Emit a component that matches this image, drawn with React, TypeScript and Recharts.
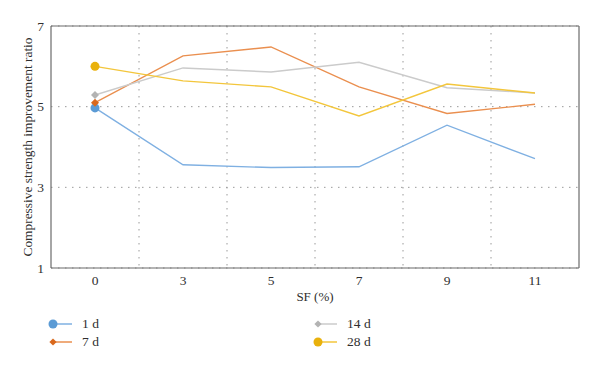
import React from 'react';
import { LineChart, Line, XAxis, YAxis, CartesianGrid } from 'recharts';

const sfLabels = ['0', '3', '5', '7', '9', '11'];
const day1 = [4.97, 3.56, 3.49, 3.51, 4.54, 3.71];
const day7 = [5.1, 6.26, 6.48, 5.49, 4.83, 5.06];
const day14 = [5.29, 5.96, 5.86, 6.1, 5.47, 5.34];
const day28 = [6.0, 5.64, 5.49, 4.77, 5.56, 5.34];
const yTicks = [1, 3, 5, 7];

const data = sfLabels.map((sf, i) => ({
  sf,
  d1: day1[i],
  d7: day7[i],
  d14: day14[i],
  d28: day28[i],
}));

const FONT = 'Liberation Serif';
const frameColor = '#6b6b6b';
const gridColor = '#9a9a9a';
const textColor = '#2f2f2f';

const series = [
  { key: 'd1', name: '1 d', line: '#7fb0e2', mark: '#5b9bd5', shape: 'circle' },
  { key: 'd7', name: '7 d', line: '#ea8f4f', mark: '#d9681c', shape: 'diamond' },
  { key: 'd14', name: '14 d', line: '#cbcbcb', mark: '#b3b3b3', shape: 'diamond' },
  { key: 'd28', name: '28 d', line: '#f3c63c', mark: '#e9b10c', shape: 'circle' },
];

const Marker = ({ cx, cy, shape, color, size = 4 }: { cx: number; cy: number; shape: string; color: string; size?: number }) =>
  shape === 'circle' ? (
    <circle cx={cx} cy={cy} r={4.5} fill={color} />
  ) : (
    <path d={`M${cx},${cy - size} L${cx + size},${cy} L${cx},${cy + size} L${cx - size},${cy} Z`} fill={color} />
  );

// only the first point of each series gets a marker
const firstDot = (shape: string, color: string) => (props: any) => {
  const { cx, cy, index } = props;
  if (index !== 0) return <g key={`e-${index}`} />;
  return (
    <g key={`m-${index}`}>
      <Marker cx={cx} cy={cy} shape={shape} color={color} />
    </g>
  );
};

const LegendItem = ({ s }: { s: (typeof series)[number] }) => (
  <div style={{ display: 'flex', alignItems: 'center', height: 18 }}>
    <svg width={26} height={12} style={{ marginRight: 9 }}>
      <line x1={6} y1={6} x2={25} y2={6} stroke={s.line} strokeWidth={1.5} />
      <Marker cx={6} cy={6} shape={s.shape} color={s.mark} size={3.6} />
    </svg>
    <span>{s.name}</span>
  </div>
);

const App: React.FC = () => {
  return (
    <div style={{ position: 'absolute', left: 0, top: 0, width: 600, height: 366, background: '#fff', fontFamily: FONT }}>
      <LineChart width={600} height={310} data={data} margin={{ top: 25, right: 20, left: 0, bottom: 0 }}>
        <CartesianGrid
          stroke={gridColor}
          strokeDasharray="1.5 5.5"
          verticalCoordinatesGenerator={({ offset }: any) =>
            [1, 2, 3, 4, 5].map((i) => offset.left + (offset.width * i) / sfLabels.length)
          }
        />
        <XAxis
          dataKey="sf"
          height={42}
          padding={{ left: 44, right: 44 }}
          tickLine={false}
          tickSize={0}
          tickMargin={7}
          axisLine={{ stroke: frameColor, strokeWidth: 1.2 }}
          tick={{ fill: textColor, fontSize: 13.5, fontFamily: FONT }}
          label={{ value: 'SF (%)', position: 'insideBottom', offset: 9, fill: textColor, fontSize: 13, fontFamily: FONT }}
        />
        <XAxis
          xAxisId="top"
          dataKey="sf"
          orientation="top"
          height={1}
          padding={{ left: 44, right: 44 }}
          tick={false}
          tickLine={false}
          axisLine={{ stroke: frameColor, strokeWidth: 1.2 }}
        />
        <YAxis
          domain={[1, 7]}
          ticks={yTicks}
          width={51}
          tickLine={false}
          tickSize={0}
          tickMargin={7}
          axisLine={{ stroke: frameColor, strokeWidth: 1.2 }}
          tick={{ fill: textColor, fontSize: 13.5, fontFamily: FONT }}
          label={{
            value: 'Compressive strength improvement ratio',
            angle: -90,
            position: 'center',
            dx: 2,
            fill: textColor,
            fontSize: 13.4,
            fontFamily: FONT,
          }}
        />
        <YAxis
          yAxisId="right"
          orientation="right"
          domain={[1, 7]}
          width={1}
          tick={false}
          tickLine={false}
          axisLine={{ stroke: frameColor, strokeWidth: 1.2 }}
        />
        {series.map((s) => (
          <Line
            key={s.key}
            type="linear"
            dataKey={s.key}
            name={s.name}
            stroke={s.line}
            strokeWidth={1.4}
            dot={firstDot(s.shape, s.mark)}
            activeDot={false}
            isAnimationActive={false}
          />
        ))}
      </LineChart>
      <div style={{ position: 'absolute', top: 315, left: 47, fontSize: 13.5, color: textColor }}>
        <LegendItem s={series[0]} />
        <LegendItem s={series[1]} />
      </div>
      <div style={{ position: 'absolute', top: 315, left: 312, fontSize: 13.5, color: textColor }}>
        <LegendItem s={series[2]} />
        <LegendItem s={series[3]} />
      </div>
    </div>
  );
};

export default App;
